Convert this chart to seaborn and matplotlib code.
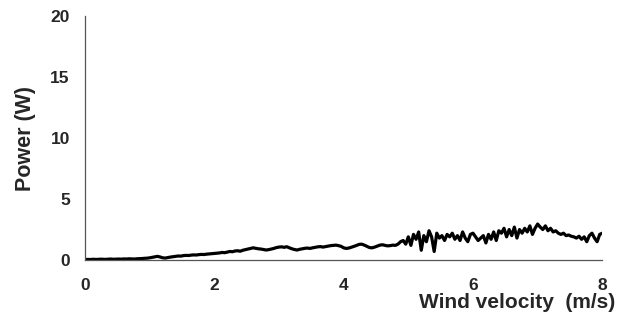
import numpy as np
import pandas as pd
import seaborn as sns
import matplotlib.pyplot as plt

velocity = np.round(np.arange(0, 8.001, 0.04), 2)
power = [
    # 0.00 - 0.96
    0.04, 0.05, 0.04, 0.06, 0.05, 0.05, 0.07, 0.06, 0.05, 0.07, 0.08, 0.06, 0.07,
    0.08, 0.07, 0.09, 0.08, 0.1, 0.09, 0.08, 0.1, 0.11, 0.12, 0.14, 0.15,
    # 1.00 - 1.96
    0.18, 0.22, 0.26, 0.3, 0.25, 0.18, 0.16, 0.2, 0.24, 0.27, 0.3, 0.33, 0.32,
    0.36, 0.38, 0.37, 0.4, 0.42, 0.41, 0.44, 0.46, 0.45, 0.48, 0.5, 0.52,
    # 2.00 - 2.96
    0.54, 0.56, 0.58, 0.62, 0.6, 0.65, 0.7, 0.68, 0.74, 0.76, 0.72, 0.8, 0.85,
    0.9, 0.95, 1.0, 0.96, 0.92, 0.9, 0.86, 0.82, 0.85, 0.9, 0.95, 1.02,
    # 3.00 - 3.96
    1.06, 1.08, 1.04, 1.09, 1.0, 0.92, 0.86, 0.82, 0.88, 0.92, 0.96, 0.98, 0.95,
    1.0, 1.04, 1.08, 1.1, 1.06, 1.1, 1.14, 1.18, 1.2, 1.22, 1.18, 1.12,
    # 4.00 - 4.96
    1.0, 0.95, 0.98, 1.05, 1.12, 1.2, 1.28, 1.3, 1.22, 1.12, 1.02, 1.0, 1.06,
    1.14, 1.22, 1.25, 1.2, 1.16, 1.18, 1.22, 1.2, 1.3, 1.5, 1.6, 1.3,
    # 5.00 - 5.96
    1.9, 1.2, 2.1, 1.7, 2.3, 0.8, 2.0, 1.5, 2.4, 1.9, 0.7, 2.2, 1.8,
    2.0, 1.6, 2.1, 1.9, 2.2, 1.7, 2.0, 1.6, 2.3, 1.8, 1.5, 2.1,
    # 6.00 - 6.96
    2.2, 1.9, 1.6, 1.8, 2.0, 1.4, 2.1, 1.7, 2.3, 1.6, 2.4, 2.2, 2.6,
    1.9, 2.5, 2.0, 2.7, 1.8, 2.5, 2.2, 2.6, 2.3, 2.8, 2.1, 2.6,
    # 7.00 - 7.96
    2.95, 2.7, 2.5, 2.8, 2.4, 2.6, 2.3, 2.4, 2.2, 2.1, 2.2, 2.0, 2.05,
    1.95, 1.9, 1.8, 1.95, 1.7, 1.9, 1.5, 2.0, 2.2, 1.8, 1.5, 2.1,
    # 8.00
    2.2,
]

x_ticks = [0, 2, 4, 6, 8]
y_ticks = [0, 5, 10, 15, 20]

sns.set_style('white')
plt.rcParams['font.family'] = ['Liberation Sans', 'DejaVu Sans']

df = pd.DataFrame({'Wind velocity': velocity, 'Power': power})

fig = plt.figure(figsize=(6.3, 3.22), dpi=100)
ax = fig.add_axes([0.135, 0.1925, 0.821, 0.7575])
sns.lineplot(x='Wind velocity', y='Power', data=df, color='black',
             linewidth=2.3, estimator=None, sort=True, ax=ax)

ax.set_xlim(0, 8)
ax.set_ylim(0, 20)
ax.set_xticks(x_ticks)
ax.set_yticks(y_ticks)
ax.tick_params(direction='in', length=4, width=0.8, color='#555555',
               labelsize=12.5, pad=11)
ax.tick_params(axis='x', pad=13)
for lab in ax.get_xticklabels() + ax.get_yticklabels():
    lab.set_fontweight('bold')

for side in ['top', 'right']:
    ax.spines[side].set_visible(False)
for side in ['left', 'bottom']:
    ax.spines[side].set_color('#555555')
    ax.spines[side].set_linewidth(0.9)

ax.set_ylabel('Power (W)', fontsize=15.5, fontweight='bold', labelpad=10)
ax.set_xlabel('Wind velocity  (m/s)', fontsize=15, fontweight='bold')
ax.xaxis.set_label_coords(1.025, -0.135)
ax.xaxis.label.set_ha('right')

plt.savefig('out.png', dpi=100)
plt.close()
